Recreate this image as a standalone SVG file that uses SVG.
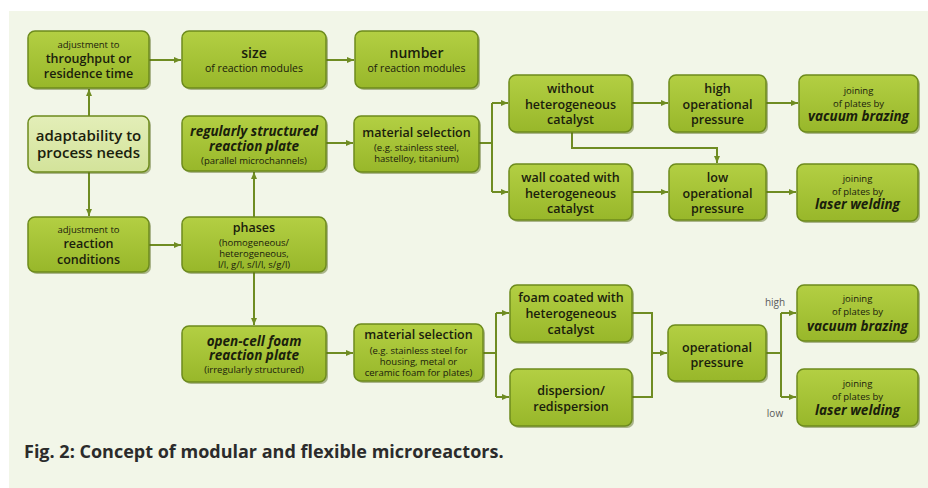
<svg xmlns="http://www.w3.org/2000/svg" width="928" height="488" viewBox="0 0 928 488">
<defs>
<linearGradient id="g" x1="0" y1="0" x2="0" y2="1">
<stop offset="0" stop-color="#b3cf43"/>
<stop offset="1" stop-color="#98b72a"/>
</linearGradient>
<linearGradient id="gl" x1="0" y1="0" x2="0" y2="1">
<stop offset="0" stop-color="#e3eeb8"/>
<stop offset="1" stop-color="#d3e39a"/>
</linearGradient>
<marker id="a" markerUnits="userSpaceOnUse" markerWidth="8" markerHeight="8" refX="7" refY="4" orient="auto">
<path d="M0,1 L7,4 L0,7 Z" fill="#6f8c22"/>
</marker>
<style>
.b{fill:url(#g);stroke:#6d8b1d;stroke-width:1.5}
.bl{fill:url(#gl);stroke:#6d8b1d;stroke-width:1.5}
.sh{fill:#55661a;opacity:0.45}
text{font-family:"Open Sans","Noto Sans",sans-serif;fill:#1a200c;text-anchor:middle}
.s{font-size:9.5px}
.m{font-size:12.5px;font-weight:600}
.l{font-size:15px;font-weight:600}
.bi{font-size:13.5px;font-weight:bold;font-style:italic}
.c{fill:none;stroke:#6f8c22;stroke-width:2}
.lab{font-size:10px;fill:#5a5a5a}
.cap{font-size:18px;font-weight:bold;fill:#2b2b2b;text-anchor:start}
</style>
</defs>
<rect x="0" y="0" width="928" height="488" fill="#ffffff"/>
<rect x="9" y="11" width="919" height="477" fill="#f2f6e8"/>

<g id="connectors">
<path class="c" d="M89,116 V89" marker-end="url(#a)"/>
<path class="c" d="M89,172 V216" marker-end="url(#a)"/>
<path class="c" d="M149,60 H181" marker-end="url(#a)"/>
<path class="c" d="M326,60 H354" marker-end="url(#a)"/>
<path class="c" d="M149,245 H181" marker-end="url(#a)"/>
<path class="c" d="M254,217 V172" marker-end="url(#a)"/>
<path class="c" d="M254,272 V325" marker-end="url(#a)"/>
<path class="c" d="M326,143 H353" marker-end="url(#a)"/>
<path class="c" d="M479,143 H492"/>
<path class="c" d="M492,103 V192"/>
<path class="c" d="M492,103 H508" marker-end="url(#a)"/>
<path class="c" d="M492,192 H508" marker-end="url(#a)"/>
<path class="c" d="M572,132 V148 H717 V163" marker-end="url(#a)"/>
<path class="c" d="M632,103 H668" marker-end="url(#a)"/>
<path class="c" d="M632,192 H668" marker-end="url(#a)"/>
<path class="c" d="M766,103 H798" marker-end="url(#a)"/>
<path class="c" d="M766,192 H796" marker-end="url(#a)"/>
<path class="c" d="M326,353 H353" marker-end="url(#a)"/>
<path class="c" d="M483,353 H496"/>
<path class="c" d="M496,313 V397"/>
<path class="c" d="M496,313 H509" marker-end="url(#a)"/>
<path class="c" d="M496,397 H509" marker-end="url(#a)"/>
<path class="c" d="M632,313 H652 V397 H632"/>
<path class="c" d="M652,353 H667" marker-end="url(#a)"/>
<path class="c" d="M766,353 H781"/>
<path class="c" d="M781,313 V397"/>
<path class="c" d="M781,313 H796" marker-end="url(#a)"/>
<path class="c" d="M781,397 H796" marker-end="url(#a)"/>
</g>

<g id="n_throughput">
<rect class="sh" x="30" y="33" width="121" height="57" rx="7"/>
<rect class="b" x="28" y="31" width="121" height="57" rx="7"/>
<text class="s" x="88.5" y="47.5">adjustment to</text>
<text class="m" x="88.5" y="63">throughput or</text>
<text class="m" x="88.5" y="77.5">residence time</text>
</g>
<g id="n_size">
<rect class="sh" x="184" y="33" width="144" height="57" rx="7"/>
<rect class="b" x="182" y="31" width="144" height="57" rx="7"/>
<text class="m" x="254" y="58" style="font-size:14px">size</text>
<text class="s" x="254" y="71.5" style="font-size:10.5px">of reaction modules</text>
</g>
<g id="n_number">
<rect class="sh" x="357" y="33" width="123" height="57" rx="7"/>
<rect class="b" x="355" y="31" width="123" height="57" rx="7"/>
<text class="m" x="416.5" y="58" style="font-size:14px">number</text>
<text class="s" x="416.5" y="71.5" style="font-size:10.5px">of reaction modules</text>
</g>
<g id="n_adapt">
<rect class="sh" x="30" y="118" width="121" height="56" rx="7"/>
<rect class="bl" x="28" y="116" width="121" height="56" rx="7"/>
<text class="l" x="88.5" y="141">adaptability to</text>
<text class="l" x="88.5" y="158">process needs</text>
</g>
<g id="n_regular">
<rect class="sh" x="184" y="118" width="144" height="55" rx="7"/>
<rect class="b" x="182" y="116" width="144" height="55" rx="7"/>
<text class="bi" x="254" y="135.5">regularly structured</text>
<text class="bi" x="254" y="150.5">reaction plate</text>
<text class="s" x="254" y="163.5">(parallel microchannels)</text>
</g>
<g id="n_conditions">
<rect class="sh" x="30" y="219" width="121" height="55" rx="7"/>
<rect class="b" x="28" y="217" width="121" height="55" rx="7"/>
<text class="s" x="88.5" y="232.5">adjustment to</text>
<text class="m" x="88.5" y="248">reaction</text>
<text class="m" x="88.5" y="264">conditions</text>
</g>
<g id="n_phases">
<rect class="sh" x="184" y="219" width="144" height="55" rx="7"/>
<rect class="b" x="182" y="217" width="144" height="55" rx="7"/>
<text class="m" x="254" y="232">phases</text>
<text class="s" x="254" y="245.5">(homogeneous/</text>
<text class="s" x="254" y="256.5">heterogeneous,</text>
<text class="s" x="254" y="268">l/l, g/l, s/l/l, s/g/l)</text>
</g>
<g id="n_foam">
<rect class="sh" x="184" y="328" width="144" height="56" rx="7"/>
<rect class="b" x="182" y="326" width="144" height="56" rx="7"/>
<text class="bi" x="254" y="345.5">open-cell foam</text>
<text class="bi" x="254" y="360">reaction plate</text>
<text class="s" x="254" y="373">(irregularly structured)</text>
</g>
<g id="n_mat1">
<rect class="sh" x="356" y="118" width="125" height="56" rx="7"/>
<rect class="b" x="354" y="116" width="125" height="56" rx="7"/>
<text class="m" x="416.5" y="136.5">material selection</text>
<text class="s" x="416.5" y="150.5">(e.g. stainless steel,</text>
<text class="s" x="416.5" y="161.5">hastelloy, titanium)</text>
</g>
<g id="n_without">
<rect class="sh" x="511" y="77" width="123" height="57" rx="7"/>
<rect class="b" x="509" y="75" width="123" height="57" rx="7"/>
<text class="m" x="570.5" y="92.5">without</text>
<text class="m" x="570.5" y="108.5">heterogeneous</text>
<text class="m" x="570.5" y="123.5">catalyst</text>
</g>
<g id="n_wall">
<rect class="sh" x="511" y="166" width="123" height="56" rx="7"/>
<rect class="b" x="509" y="164" width="123" height="56" rx="7"/>
<text class="m" x="570.5" y="181.5">wall coated with</text>
<text class="m" x="570.5" y="197.5">heterogeneous</text>
<text class="m" x="570.5" y="212.5">catalyst</text>
</g>
<g id="n_high">
<rect class="sh" x="671" y="77" width="97" height="57" rx="7"/>
<rect class="b" x="669" y="75" width="97" height="57" rx="7"/>
<text class="m" x="717.5" y="92.5">high</text>
<text class="m" x="717.5" y="108.5">operational</text>
<text class="m" x="717.5" y="123.5">pressure</text>
</g>
<g id="n_low">
<rect class="sh" x="671" y="166" width="97" height="56" rx="7"/>
<rect class="b" x="669" y="164" width="97" height="56" rx="7"/>
<text class="m" x="717.5" y="181.5">low</text>
<text class="m" x="717.5" y="197.5">operational</text>
<text class="m" x="717.5" y="212.5">pressure</text>
</g>
<g id="n_vac1">
<rect class="sh" x="801" y="77" width="119" height="57" rx="7"/>
<rect class="b" x="799" y="75" width="119" height="57" rx="7"/>
<text class="s" x="858.5" y="94">joining</text>
<text class="s" x="858.5" y="106.5">of plates by</text>
<text class="bi" x="858.5" y="121">vacuum brazing</text>
</g>
<g id="n_laser1">
<rect class="sh" x="799" y="166" width="121" height="57" rx="7"/>
<rect class="b" x="797" y="164" width="121" height="57" rx="7"/>
<text class="s" x="857.5" y="182">joining</text>
<text class="s" x="857.5" y="194.5">of plates by</text>
<text class="bi" x="857.5" y="209">laser welding</text>
</g>
<g id="n_mat2">
<rect class="sh" x="356" y="326" width="129" height="57" rx="7"/>
<rect class="b" x="354" y="324" width="129" height="57" rx="7"/>
<text class="m" x="418.5" y="338.5">material selection</text>
<text class="s" x="418.5" y="353.5">(e.g. stainless steel for</text>
<text class="s" x="418.5" y="364.5">housing, metal or</text>
<text class="s" x="418.5" y="375.5">ceramic foam for plates)</text>
</g>
<g id="n_foamcoat">
<rect class="sh" x="512" y="287" width="122" height="57" rx="7"/>
<rect class="b" x="510" y="285" width="122" height="57" rx="7"/>
<text class="m" x="571" y="301.5">foam coated with</text>
<text class="m" x="571" y="317.5">heterogeneous</text>
<text class="m" x="571" y="333.5">catalyst</text>
</g>
<g id="n_disp">
<rect class="sh" x="512" y="371" width="122" height="57" rx="7"/>
<rect class="b" x="510" y="369" width="122" height="57" rx="7"/>
<text class="m" x="571" y="394.5">dispersion/</text>
<text class="m" x="571" y="410.5">redispersion</text>
</g>
<g id="n_op">
<rect class="sh" x="670" y="327" width="98" height="56" rx="7"/>
<rect class="b" x="668" y="325" width="98" height="56" rx="7"/>
<text class="m" x="717" y="351.5">operational</text>
<text class="m" x="717" y="366.5">pressure</text>
</g>
<g id="n_vac2">
<rect class="sh" x="799" y="287" width="121" height="56" rx="7"/>
<rect class="b" x="797" y="285" width="121" height="56" rx="7"/>
<text class="s" x="857.5" y="302">joining</text>
<text class="s" x="857.5" y="315">of plates by</text>
<text class="bi" x="857.5" y="331">vacuum brazing</text>
</g>
<g id="n_laser2">
<rect class="sh" x="799" y="371" width="121" height="57" rx="7"/>
<rect class="b" x="797" y="369" width="121" height="57" rx="7"/>
<text class="s" x="857.5" y="387">joining</text>
<text class="s" x="857.5" y="400">of plates by</text>
<text class="bi" x="857.5" y="414.5">laser welding</text>
</g>
<text class="lab" x="775" y="305.5">high</text>
<text class="lab" x="775" y="416.5">low</text>
<text class="cap" x="24" y="458">Fig. 2: Concept of modular and flexible microreactors.</text>
</svg>
